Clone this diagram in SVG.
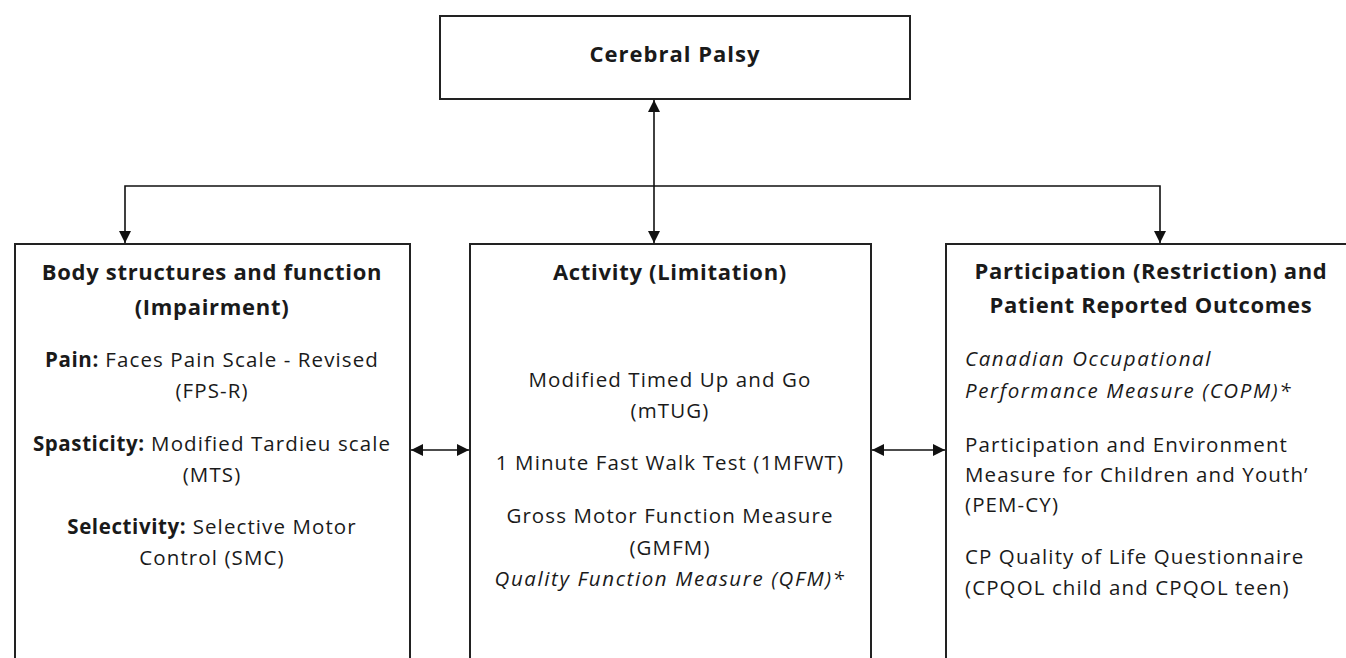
<svg xmlns="http://www.w3.org/2000/svg" width="1346" height="658" viewBox="0 0 1346 658">
<defs>
<style>
.box{fill:#fff;stroke:#222;stroke-width:2}
.ln{fill:none;stroke:#111;stroke-width:1.6}
text{font-family:"Open Sans","Liberation Sans",sans-serif;fill:#1a1a1a;font-size:20.5px;letter-spacing:1.1px}
.h{font-weight:bold;font-size:22px;letter-spacing:0.7px}
.b{font-weight:bold;letter-spacing:0.6px}
.i{font-style:italic;letter-spacing:1.6px}
.c{text-anchor:middle}
</style>
<marker id="ah" viewBox="0 0 12 12" refX="12" refY="6" markerWidth="12" markerHeight="12" markerUnits="userSpaceOnUse" orient="auto-start-reverse">
<path d="M0,0 L12,6 L0,12 z" fill="#111"/>
</marker>
</defs>
<rect width="1346" height="658" fill="#fff"/>
<g id="connectors">
<line class="ln" x1="654" y1="100" x2="654" y2="243" marker-start="url(#ah)" marker-end="url(#ah)"/>
<polyline class="ln" points="125,243 125,186 1160,186 1160,243" marker-start="url(#ah)" marker-end="url(#ah)"/>
<line class="ln" x1="411" y1="450" x2="469" y2="450" marker-start="url(#ah)" marker-end="url(#ah)"/>
<line class="ln" x1="872" y1="450" x2="945" y2="450" marker-start="url(#ah)" marker-end="url(#ah)"/>
</g>
<g id="cerebral-palsy">
<rect class="box" x="440" y="16" width="470" height="83"/>
<text class="h c" x="675" y="62" style="letter-spacing:1px">Cerebral Palsy</text>
</g>
<g id="body-structures">
<rect class="box" x="15" y="244" width="395" height="430"/>
<text class="h c" x="212" y="280">Body structures and function</text>
<text class="h c" x="212" y="315">(Impairment)</text>
<text class="c" x="212" y="367"><tspan class="b">Pain:</tspan> Faces Pain Scale - Revised</text>
<text class="c" x="212" y="398">(FPS-R)</text>
<text class="c" x="212" y="451"><tspan class="b">Spasticity:</tspan> Modified Tardieu scale</text>
<text class="c" x="212" y="482">(MTS)</text>
<text class="c" x="212" y="534"><tspan class="b">Selectivity:</tspan> Selective Motor</text>
<text class="c" x="212" y="565">Control (SMC)</text>
</g>
<g id="activity">
<rect class="box" x="470" y="244" width="401" height="430"/>
<text class="h c" x="670" y="280">Activity (Limitation)</text>
<text class="c" x="670" y="387">Modified Timed Up and Go</text>
<text class="c" x="670" y="418">(mTUG)</text>
<text class="c" x="670" y="470">1 Minute Fast Walk Test (1MFWT)</text>
<text class="c" x="670" y="523">Gross Motor Function Measure</text>
<text class="c" x="670" y="555">(GMFM)</text>
<text class="c i" x="670" y="586">Quality Function Measure (QFM)*</text>
</g>
<g id="participation">
<rect class="box" x="946" y="244" width="412" height="430"/>
<text class="h c" x="1151" y="279">Participation (Restriction) and</text>
<text class="h c" x="1151" y="313">Patient Reported Outcomes</text>
<text class="i" x="965" y="366">Canadian Occupational</text>
<text class="i" x="965" y="398">Performance Measure (COPM)*</text>
<text x="965" y="452">Participation and Environment</text>
<text x="965" y="482">Measure for Children and Youth’</text>
<text x="965" y="512">(PEM-CY)</text>
<text x="965" y="564">CP Quality of Life Questionnaire</text>
<text x="965" y="595">(CPQOL child and CPQOL teen)</text>
</g>
</svg>
